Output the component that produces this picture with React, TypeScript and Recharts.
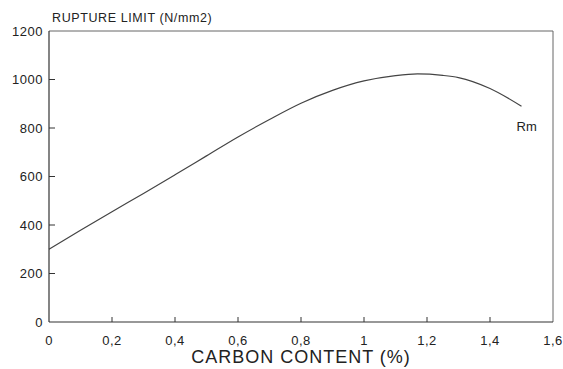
import React from 'react';
import { LineChart, Line, XAxis, YAxis, ReferenceLine } from 'recharts';

// values
const carbon = [0, 0.1, 0.2, 0.3, 0.4, 0.5, 0.6, 0.7, 0.8, 0.9, 1.0, 1.1, 1.17, 1.25, 1.3, 1.4, 1.5];
const rupture = [300, 378, 455, 530, 607, 685, 763, 835, 902, 955, 994, 1016, 1023, 1017, 1008, 963, 890];

const xTicks = [0, 0.2, 0.4, 0.6, 0.8, 1, 1.2, 1.4, 1.6];
const yTicks = [0, 200, 400, 600, 800, 1000, 1200];
const seriesName = 'Rm';
const xTitle = 'CARBON CONTENT (%)';
const yTitle = 'RUPTURE LIMIT (N/mm2)';

const data = carbon.map((c, i) => ({ c, r: rupture[i] }));

const FONT = '"Liberation Sans", Arial, sans-serif';
const INK = '#222';
const yMax = yTicks[yTicks.length - 1];

const fmt = (v: number) => String(v).replace('.', ',');

// ticks point inward, so draw line + label ourselves
const XTick = (props: any) => {
    const { x, y, payload } = props;
    return (
        <g>
            {payload.value > 0 && payload.value < 1.6 && (
                <line x1={x} y1={y} x2={x} y2={y - 5} stroke="#333" strokeWidth={1} />
            )}
            <text x={x} y={y + 23} textAnchor="middle" fontSize={13} fill={INK} fontFamily={FONT} letterSpacing={0.5}>
                {fmt(payload.value)}
            </text>
        </g>
    );
};

const YTick = (props: any) => {
    const { x, y, payload } = props;
    return (
        <g>
            {payload.value > 0 && payload.value < yMax && (
                <line x1={x} y1={y} x2={x + 6} y2={y} stroke="#333" strokeWidth={1} />
            )}
            <text x={x - 6} y={y} dy="0.36em" textAnchor="end" fontSize={13} fill={INK} fontFamily={FONT} letterSpacing={0.5}>
                {payload.value}
            </text>
            {/* axis title sits just above the top tick */}
            {payload.value === yMax && (
                <text x={x + 3} y={y - 9} fontSize={12.5} fill={INK} fontFamily={FONT} letterSpacing={0.6}>
                    {yTitle}
                </text>
            )}
        </g>
    );
};

export default function App() {
    return (
        <div style={{ position: 'absolute', left: 0, top: 0, background: '#fff' }}>
            <LineChart width={563} height={369} data={data} margin={{ top: 31, right: 10, left: 0, bottom: 0 }}>
                <XAxis
                    dataKey="c"
                    type="number"
                    domain={[0, 1.6]}
                    ticks={xTicks}
                    interval={0}
                    height={47}
                    tickSize={0}
                    tickMargin={0}
                    tickLine={false}
                    tick={<XTick />}
                    axisLine={{ stroke: '#333', strokeWidth: 1.2 }}
                    label={{
                        content: (p: any) => {
                            const vb = p.viewBox;
                            return (
                                <text x={vb.x + vb.width / 2} y={vb.y + 41} textAnchor="middle" fontSize={18} fill={INK} fontFamily={FONT} letterSpacing={1}>
                                    {xTitle}
                                </text>
                            );
                        },
                    }}
                />
                <YAxis
                    type="number"
                    domain={[0, yMax]}
                    ticks={yTicks}
                    interval={0}
                    width={49}
                    tickSize={0}
                    tickMargin={0}
                    tickLine={false}
                    tick={<YTick />}
                    axisLine={{ stroke: '#333', strokeWidth: 1.2 }}
                />
                {/* top and right frame */}
                <ReferenceLine y={yMax} stroke="#666" strokeWidth={1} />
                <ReferenceLine x={1.6} stroke="#666" strokeWidth={1} />
                <Line
                    dataKey="r"
                    type="monotone"
                    stroke="#444"
                    strokeWidth={1.2}
                    dot={false}
                    activeDot={false}
                    isAnimationActive={false}
                    label={(p: any) =>
                        p.index === data.length - 1 ? (
                            <text key="rm" x={p.x - 5} y={p.y + 25} fontSize={13} fill={INK} fontFamily={FONT}>
                                {seriesName}
                            </text>
                        ) : (
                            <g key={'l' + p.index} />
                        )
                    }
                />
            </LineChart>
        </div>
    );
}
